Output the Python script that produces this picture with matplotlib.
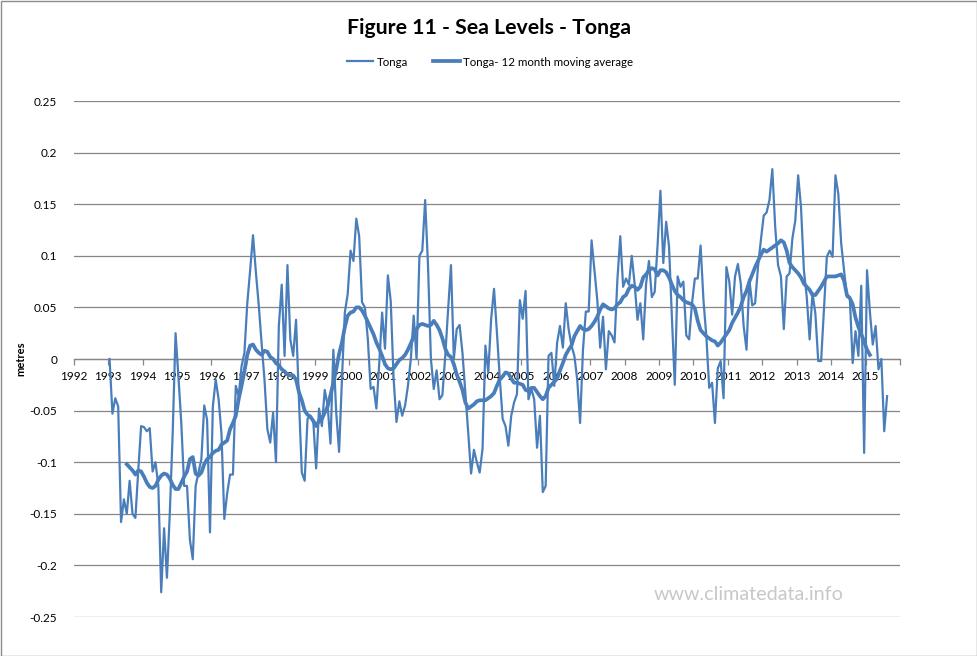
import numpy as np
import matplotlib
matplotlib.use("Agg")
import matplotlib.pyplot as plt
from matplotlib.patches import Rectangle

# ---------------- data ----------------
start_year = 1993  # monthly series starting January 1993 (plotted mid-month)

tonga = [
    0.000, -0.053, -0.038, -0.046, -0.158, -0.136, -0.150, -0.118, -0.150, -0.154, -0.108, -0.065,
    -0.066, -0.070, -0.067, -0.109, -0.100, -0.123, -0.226, -0.164, -0.212, -0.149, -0.072, 0.025,
    -0.017, -0.062, -0.123, -0.123, -0.175, -0.194, -0.123, -0.110, -0.097, -0.045, -0.059, -0.168,
    -0.046, -0.020, -0.039, -0.072, -0.155, -0.130, -0.112, -0.112, -0.026, -0.036, -0.007, 0.006,
    0.054, 0.086, 0.120, 0.084, 0.052, 0.015, -0.020, -0.068, -0.081, -0.052, -0.100, 0.032,
    0.072, 0.003, 0.091, 0.019, 0.003, 0.038, -0.039, -0.110, -0.118, -0.058, -0.055, -0.060,
    -0.106, -0.048, -0.065, -0.030, -0.045, -0.082, 0.009, -0.052, -0.090, -0.019, 0.045, 0.063,
    0.105, 0.095, 0.136, 0.119, 0.055, 0.050, 0.020, -0.029, -0.027, -0.048, -0.004, 0.045,
    0.010, 0.081, 0.056, -0.019, -0.061, -0.041, -0.055, -0.045, -0.026, 0.000, 0.042, 0.000,
    0.100, 0.105, 0.154, 0.090, 0.000, -0.029, -0.011, -0.039, -0.035, 0.003, 0.048, 0.091,
    0.000, 0.029, 0.033, 0.006, -0.032, -0.071, -0.111, -0.088, -0.100, -0.110, -0.087, 0.013,
    -0.013, 0.039, 0.068, 0.026, -0.018, -0.058, -0.065, -0.084, -0.055, -0.042, -0.034, 0.057,
    0.039, 0.066, -0.039, -0.029, -0.039, -0.086, -0.055, -0.129, -0.123, 0.003, 0.006, -0.026,
    0.016, 0.032, 0.011, 0.054, 0.029, 0.013, 0.003, -0.020, -0.062, 0.009, 0.046, 0.046,
    0.115, 0.086, 0.057, 0.011, 0.041, -0.010, 0.027, 0.023, 0.016, 0.077, 0.119, 0.070,
    0.078, 0.072, 0.100, 0.073, 0.038, 0.054, 0.019, 0.073, 0.095, 0.060, 0.065, 0.110,
    0.163, 0.093, 0.133, 0.109, 0.040, -0.025, 0.080, 0.070, 0.075, 0.023, 0.019, 0.054,
    0.078, 0.078, 0.110, 0.057, 0.022, -0.028, -0.023, -0.062, -0.009, -0.002, -0.038, 0.089,
    0.075, 0.043, 0.080, 0.092, 0.073, 0.032, 0.009, 0.077, 0.052, 0.054, 0.089, 0.115,
    0.139, 0.142, 0.154, 0.184, 0.128, 0.091, 0.080, 0.029, 0.080, 0.083, 0.117, 0.134,
    0.178, 0.147, 0.086, 0.060, 0.019, 0.064, 0.044, -0.002, -0.002, 0.048, 0.099, 0.105,
    0.099, 0.178, 0.160, 0.112, 0.086, 0.060, 0.060, -0.004, 0.027, 0.003, 0.071, -0.091,
    0.086, 0.046, 0.014, 0.032, -0.010, 0.000, -0.070, -0.036,
]

ma_start_index = 6  # first month index (from Jan 1993) of the 12-month moving average
tonga_ma12 = [
    -0.102, -0.105, -0.108, -0.112, -0.108, -0.109,
    -0.114, -0.120, -0.124, -0.125, -0.123, -0.117, -0.113, -0.111, -0.112, -0.116, -0.122, -0.126,
    -0.126, -0.120, -0.114, -0.109, -0.097, -0.095, -0.111, -0.113, -0.110, -0.102, -0.097, -0.095,
    -0.091, -0.089, -0.088, -0.083, -0.081, -0.079, -0.068, -0.062, -0.055, -0.039, -0.026, -0.012,
    0.004, 0.013, 0.014, 0.009, 0.006, 0.004, 0.008, 0.007, 0.002, 0.000, -0.004, -0.006,
    -0.010, -0.012, -0.015, -0.016, -0.016, -0.020, -0.032, -0.040, -0.050, -0.054, -0.056, -0.060,
    -0.065, -0.060, -0.058, -0.052, -0.046, -0.035, -0.023, -0.010, 0.005, 0.016, 0.031, 0.042,
    0.045, 0.046, 0.050, 0.050, 0.047, 0.042, 0.036, 0.030, 0.024, 0.016, 0.010, 0.003,
    -0.005, -0.009, -0.010, -0.009, -0.005, -0.001, 0.001, 0.004, 0.009, 0.015, 0.022, 0.029,
    0.033, 0.034, 0.033, 0.032, 0.033, 0.037, 0.033, 0.028, 0.020, 0.010, 0.004, 0.002,
    -0.005, -0.015, -0.022, -0.030, -0.042, -0.048, -0.046, -0.044, -0.041, -0.040, -0.040, -0.040,
    -0.038, -0.036, -0.033, -0.026, -0.020, -0.017, -0.013, -0.014, -0.019, -0.023, -0.023, -0.024,
    -0.025, -0.030, -0.031, -0.028, -0.028, -0.032, -0.036, -0.039, -0.036, -0.028, -0.025, -0.022,
    -0.019, -0.011, -0.004, 0.004, 0.009, 0.013, 0.022, 0.027, 0.032, 0.029, 0.028, 0.029,
    0.032, 0.036, 0.041, 0.048, 0.053, 0.051, 0.049, 0.048, 0.049, 0.053, 0.055, 0.060,
    0.062, 0.068, 0.071, 0.070, 0.067, 0.070, 0.079, 0.082, 0.086, 0.088, 0.087, 0.081,
    0.086, 0.086, 0.084, 0.079, 0.072, 0.066, 0.062, 0.060, 0.057, 0.055, 0.054, 0.053,
    0.049, 0.037, 0.028, 0.025, 0.022, 0.020, 0.018, 0.017, 0.013, 0.016, 0.020, 0.024,
    0.028, 0.035, 0.040, 0.045, 0.051, 0.060, 0.066, 0.075, 0.082, 0.089, 0.095, 0.101,
    0.106, 0.104, 0.106, 0.108, 0.110, 0.112, 0.115, 0.113, 0.105, 0.093, 0.089, 0.086,
    0.083, 0.079, 0.073, 0.070, 0.067, 0.062, 0.062, 0.066, 0.070, 0.075, 0.080, 0.080,
    0.080, 0.080, 0.081, 0.082, 0.076, 0.062, 0.059, 0.053, 0.040, 0.031, 0.024, 0.017,
    0.009, 0.004,
]

year_ticks = list(range(1992, 2016))
y_ticks = [-0.25, -0.2, -0.15, -0.1, -0.05, 0, 0.05, 0.1, 0.15, 0.2, 0.25]
y_tick_labels = ["-0.25", "-0.2", "-0.15", "-0.1", "-0.05", "0", "0.05", "0.1", "0.15", "0.2", "0.25"]

# ---------------- plot ----------------
W, H = 978, 656
fig = plt.figure(figsize=(W / 100, H / 100), dpi=100)
fig.patch.set_facecolor("white")

fam = ["Lato", "DejaVu Sans"]
title_fam = ["Lato", "DejaVu Sans"]

left, right, top, bottom = 73.7, 900.0, 101.0, 617.0
ax = fig.add_axes([left / W, 1 - bottom / H, (right - left) / W, (bottom - top) / H])

x_raw = start_year + (np.arange(len(tonga)) + 0.5) / 12.0
x_ma = start_year + (np.arange(len(tonga_ma12)) + ma_start_index + 0.5) / 12.0

line_col = "#4A7EBB"
ax.plot(x_raw, tonga, color=line_col, lw=1.6, solid_joinstyle="round", label="Tonga", zorder=3)
ax.plot(x_ma, tonga_ma12, color=line_col, lw=2.7, solid_joinstyle="round",
        label="Tonga- 12 month moving average", zorder=4)

ax.set_xlim(1992, 2016)
ax.set_ylim(-0.25, 0.25)

grid_col = "#868686"
for v in y_ticks:
    ax.axhline(v, color=grid_col, lw=0.9, zorder=1)

for s in ["left", "right", "top"]:
    ax.spines[s].set_visible(False)
ax.spines["bottom"].set_position(("data", 0))
ax.spines["bottom"].set_color(grid_col)
ax.spines["bottom"].set_linewidth(0.9)
ax.spines["bottom"].set_zorder(1)

ax.set_xticks(year_ticks + [2016])
ax.set_xticklabels([str(y) for y in year_ticks] + [""])
ax.tick_params(axis="x", direction="out", length=4, width=0.9, color=grid_col,
               pad=4.5, labelsize=8.5, labelcolor="black")
for lab in ax.get_xticklabels():
    lab.set_fontfamily(fam)

ax.set_yticks(y_ticks)
ax.set_yticklabels(y_tick_labels)
ax.tick_params(axis="y", length=0, pad=12, labelsize=8.5, labelcolor="black")
for lab in ax.get_yticklabels():
    lab.set_fontfamily(fam)

ax.set_ylabel("metres", fontsize=8, fontweight="bold", family=fam, labelpad=2)

fig.text(489 / W, 1 - 28 / H, "Figure 11 - Sea Levels - Tonga", ha="center", va="center",
         fontsize=15.3, fontweight="bold", family=title_fam)

leg = fig.legend(loc="center", bbox_to_anchor=(490 / W, 1 - 62 / H), ncol=2, frameon=False,
                 prop={"family": fam, "size": 8.3}, handlelength=2.3, columnspacing=2.2,
                 handletextpad=0.3)

fig.text(749 / W, 1 - 594 / H, "www.climatedata.info", ha="center", va="center",
         fontsize=14.2, color="#C8C8C8", family=fam)

fig.patches.append(Rectangle((0.5 / W, 0.5 / H), (W - 1.5) / W, (H - 1.5) / H,
                             transform=fig.transFigure, fill=False, edgecolor="#8C8C8C",
                             lw=1.0))

fig.savefig("out.png", dpi=100, facecolor="white")
